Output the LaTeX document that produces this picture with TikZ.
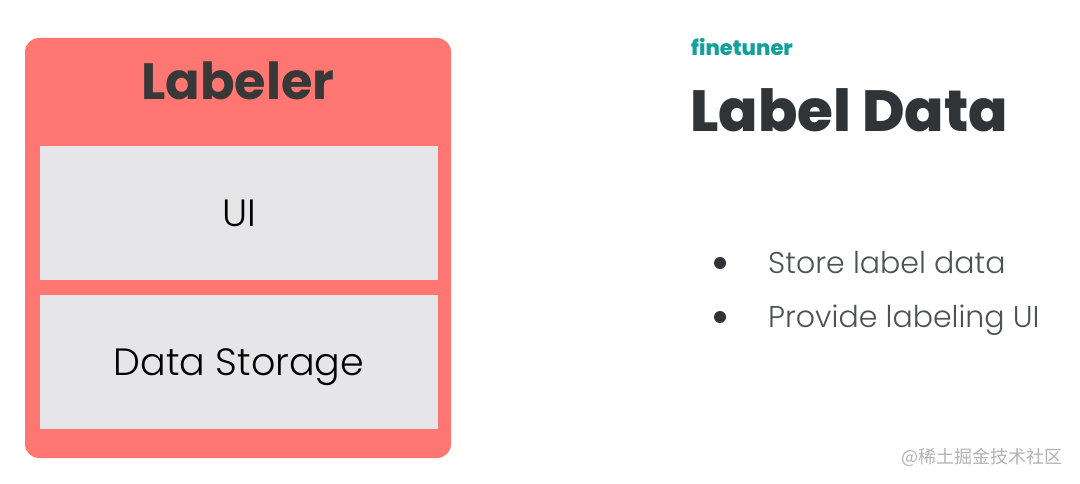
\documentclass[tikz,border=0pt]{standalone}
\usepackage{fontspec}
\setmainfont{Poppins}
\newfontfamily\popbold{Poppins ExtraBold}
\newfontfamily\popsemi{Poppins Bold}
\newfontfamily\poplight{Poppins Light}
\newfontfamily\cjk{Noto Sans CJK SC}
\definecolor{salmon}{HTML}{FF7672}
\definecolor{panel}{HTML}{E6E5E7}
\definecolor{teal}{HTML}{12A09A}
\definecolor{ink}{HTML}{2F3439}
\tikzset{
	part/.style={fill=panel, minimum width=398pt, minimum height=134pt, inner sep=0pt, text height=27pt, text depth=0pt, font=\poplight\fontsize{38}{40}\selectfont},
	point/.style={anchor=base west, inner sep=0pt, text=ink!85, font=\poplight\fontsize{30}{32}\selectfont}
}
\begin{document}
\begin{tikzpicture}[x=1pt, y=-1pt]
		\useasboundingbox[fill=white] (0,0) rectangle (1080,484);
		\fill[salmon, rounded corners=14pt] (25,38) rectangle (451,458);
		\node[text=black!78, font=\popsemi\fontsize{51}{56}\selectfont] (labeler) at (238,81) {Labeler};
		\node[part] (ui) at (239,213) {UI};
		\node[part] (storage) at (239,361.5) {Data Storage};
		\node[anchor=west, text=teal, font=\popbold\fontsize{21}{24}\selectfont, inner sep=0pt] (brand) at (691,47) {finetuner};
		\node[anchor=west, text=ink, font=\popbold\fontsize{58}{62}\selectfont, inner sep=0pt] (title) at (690,110) {Label Data};
		\fill[ink] (720,263) circle (6pt) coordinate (dotA);
		\fill[ink] (720,317) circle (6pt) coordinate (dotB);
		\node[point] (store) at (768,273) {Store label data};
		\node[point] (provide) at (768,327) {Provide labeling UI};
		\node[anchor=east, text=black!30, font=\cjk\fontsize{18}{20}\selectfont, inner sep=0pt] (mark) at (1063,457) {@稀土掘金技术社区};
	\end{tikzpicture}
\end{document}
